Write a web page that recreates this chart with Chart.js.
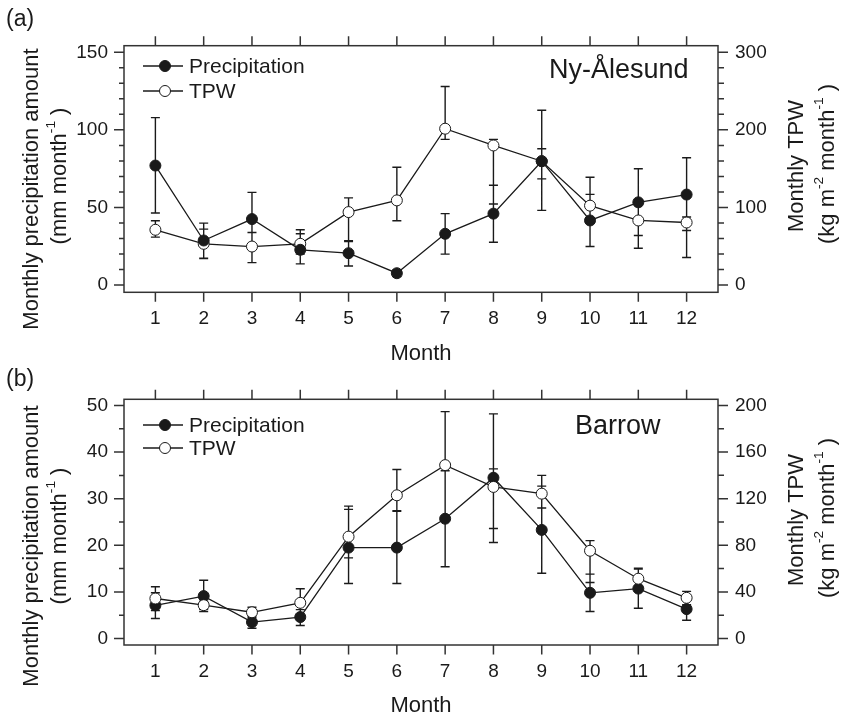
<!DOCTYPE html>
<html>
<head>
<meta charset="utf-8">
<script src="https://cdn.jsdelivr.net/npm/chart.js@4.4.1/dist/chart.umd.min.js"></script>
<style>
  html, body { margin: 0; padding: 0; background: #fff; }
  #wrap { position: relative; width: 843px; height: 719px; }
  .panel { position: absolute; left: 0; width: 843px; }
</style>
</head>
<body>
<div id="wrap">
  <div class="panel" style="top:0;height:375px"><canvas id="chartA" width="843" height="375"></canvas></div>
  <div class="panel" style="top:360px;height:359px"><canvas id="chartB" width="843" height="359"></canvas></div>
</div>
<script>
const months = [1, 2, 3, 4, 5, 6, 7, 8, 9, 10, 11, 12];

// (a) Ny-Alesund
const precipA   = [77.0, 28.7, 42.5, 22.7, 20.5, 7.6, 33.0, 46.0, 79.8, 41.6, 53.3, 58.3];
const precipLoA = [46.4, 17.3, 25.3, 13.6, 12.3, 5.5, 19.9, 27.6, 48.1, 24.8, 31.9, 35.1];
const precipHiA = [107.9, 39.9, 59.7, 33.0, 28.5, 9.7, 46.0, 64.3, 112.6, 58.4, 74.9, 82.0];
const tpwA   = [71.2, 53.1, 49.6, 53.1, 94.0, 109.1, 201.5, 179.9, 159.6, 102.3, 83.2, 80.6];
const tpwLoA = [61.7, 34.0, 28.9, 40.0, 56.1, 82.9, 187.7, 104.4, 136.8, 82.0, 47.4, 35.4];
const tpwHiA = [82.8, 72.1, 67.7, 71.2, 112.3, 151.8, 255.9, 187.7, 175.6, 139.0, 110.0, 87.6];
const precipTicksA = [0, 50, 100, 150];
const tpwTicksA = [0, 100, 200, 300];

// (b) Barrow
const precipB   = [7.1, 9.1, 3.5, 4.6, 19.5, 19.5, 25.7, 34.5, 23.3, 9.8, 10.7, 6.3];
const precipLoB = [4.3, 5.8, 2.2, 2.8, 11.8, 11.8, 15.4, 20.6, 14.0, 5.8, 6.5, 3.9];
const precipHiB = [9.8, 12.5, 4.7, 6.2, 27.7, 27.3, 36.0, 48.2, 32.7, 13.8, 14.9, 8.7];
const tpwB   = [34.3, 28.6, 22.5, 30.6, 87.4, 122.9, 148.8, 130.1, 124.3, 75.3, 51.3, 34.9];
const tpwLoB = [24.0, 25.0, 18.0, 18.4, 69.2, 109.7, 103.0, 94.4, 112.0, 48.0, 44.0, 29.0];
const tpwHiB = [44.4, 32.0, 26.8, 42.7, 113.6, 145.0, 194.7, 145.6, 140.0, 84.0, 60.3, 40.4];
const precipTicksB = [0, 10, 20, 30, 40, 50];
const tpwTicksB = [0, 40, 80, 120, 160, 200];

const FONT = '"Liberation Sans", Arial, sans-serif';
const INK = '#1a1a1a';

function toPoints(vals) {
  return months.map((m, i) => ({ x: m, y: vals[i] }));
}

// draws a rotated (bottom-to-top) line of text made of normal and superscript parts
function drawRotated(ctx, segs, cx, cy, size) {
  ctx.save();
  ctx.translate(cx, cy);
  ctx.rotate(-Math.PI / 2);
  ctx.textAlign = 'left';
  ctx.textBaseline = 'middle';
  let total = 0;
  segs.forEach(s => {
    ctx.font = (s.sup ? size * 0.62 : size) + 'px ' + FONT;
    s.w = ctx.measureText(s.t).width;
    total += s.w;
  });
  let x = -total / 2;
  segs.forEach(s => {
    ctx.font = (s.sup ? size * 0.62 : size) + 'px ' + FONT;
    ctx.fillText(s.t, x, s.sup ? -size * 0.42 : 0);
    x += s.w;
  });
  ctx.restore();
}

function makePanel(p) {
  const decor = {
    id: 'decor' + p.id,
    beforeDatasetsDraw(chart) {
      const ctx = chart.ctx;
      const xs = chart.scales.x;
      ctx.save();
      ctx.strokeStyle = INK;
      ctx.lineWidth = 1.4;
      ctx.beginPath();
      [[p.precipLo, p.precipHi, chart.scales.y], [p.tpwLo, p.tpwHi, chart.scales.y2]].forEach(([lo, hi, sc]) => {
        months.forEach((m, i) => {
          const x = xs.getPixelForValue(m);
          const a = sc.getPixelForValue(lo[i]);
          const b = sc.getPixelForValue(hi[i]);
          ctx.moveTo(x, a); ctx.lineTo(x, b);
          ctx.moveTo(x - 4.5, a); ctx.lineTo(x + 4.5, a);
          ctx.moveTo(x - 4.5, b); ctx.lineTo(x + 4.5, b);
        });
      });
      ctx.stroke();
      ctx.restore();
    },
    afterDraw(chart) {
      const ctx = chart.ctx;
      const a = chart.chartArea;
      const xs = chart.scales.x, ys = chart.scales.y, y2 = chart.scales.y2;
      ctx.save();
      ctx.strokeStyle = '#333';
      ctx.lineWidth = 1.5;
      ctx.strokeRect(a.left, a.top, a.right - a.left, a.bottom - a.top);

      // tick marks
      ctx.beginPath();
      months.forEach(m => {
        const x = xs.getPixelForValue(m);
        ctx.moveTo(x, a.bottom); ctx.lineTo(x, a.bottom + 9.5);
        ctx.moveTo(x, a.top); ctx.lineTo(x, a.top - 9.5);
      });
      const t1 = p.yTicks, t2 = p.y2Ticks;
      for (let v = t1[0]; v <= t1[t1.length - 1] + 1e-6; v += p.yMinor) {
        const y = ys.getPixelForValue(v);
        const len = t1.includes(v) ? 10 : 5;
        ctx.moveTo(a.left - len, y); ctx.lineTo(a.left, y);
      }
      for (let v = t2[0]; v <= t2[t2.length - 1] + 1e-6; v += p.y2Minor) {
        const y = y2.getPixelForValue(v);
        const len = t2.includes(v) ? 10 : 6;
        ctx.moveTo(a.right, y); ctx.lineTo(a.right + len, y);
      }
      ctx.stroke();

      // legend
      ctx.strokeStyle = INK;
      ctx.lineWidth = 1.3;
      [[p.legendY[0], INK], [p.legendY[1], '#fff']].forEach(([ly, fill], k) => {
        ctx.beginPath();
        ctx.moveTo(143, ly); ctx.lineTo(183, ly);
        ctx.stroke();
        ctx.beginPath();
        ctx.arc(165, ly, 5.5, 0, Math.PI * 2);
        ctx.fillStyle = fill;
        ctx.fill();
        ctx.lineWidth = 1;
        ctx.stroke();
        ctx.lineWidth = 1.3;
        ctx.fillStyle = INK;
        ctx.font = '21px ' + FONT;
        ctx.textAlign = 'left';
        ctx.textBaseline = 'middle';
        ctx.fillText(k === 0 ? 'Precipitation' : 'TPW', 189, ly + 1);
      });

      ctx.fillStyle = INK;
      ctx.font = '27px ' + FONT;
      ctx.textAlign = 'left';
      ctx.textBaseline = 'middle';
      ctx.fillText(p.station, p.stationX, p.stationY);

      ctx.font = '23px ' + FONT;
      ctx.fillText(p.letter, 6, 20);

      ctx.font = '22px ' + FONT;
      ctx.textAlign = 'center';
      ctx.fillText('Month', (a.left + a.right) / 2, p.monthY);

      drawRotated(ctx, [{ t: 'Monthly precipitation amount' }], 32, p.leftTitleY, 22);
      drawRotated(ctx, [{ t: '(mm month' }, { t: '-1', sup: true }, { t: ' )' }], 60, 176, 22);
      drawRotated(ctx, [{ t: 'Monthly TPW' }], 797, p.rightTitleY, 22);
      drawRotated(ctx, [{ t: '(kg m' }, { t: '-2', sup: true }, { t: ' month' }, { t: '-1', sup: true }, { t: ' )' }], 828, p.rightTitleY - 2, 22);
      ctx.restore();
    }
  };

  const tickFont = { family: FONT, size: 19 };
  return new Chart(document.getElementById(p.canvas), {
    type: 'line',
    data: {
      datasets: [
        {
          label: 'Precipitation',
          data: toPoints(p.precip),
          yAxisID: 'y',
          borderColor: INK,
          borderWidth: 1.3,
          pointRadius: 5.5,
          pointBackgroundColor: INK,
          pointBorderColor: INK,
          pointBorderWidth: 1,
          order: p.precipOrder
        },
        {
          label: 'TPW',
          data: toPoints(p.tpw),
          yAxisID: 'y2',
          borderColor: INK,
          borderWidth: 1.3,
          pointRadius: 5.5,
          pointBackgroundColor: '#fff',
          pointBorderColor: INK,
          pointBorderWidth: 1,
          order: 1 - p.precipOrder
        }
      ]
    },
    options: {
      responsive: false,
      animation: false,
      layout: { padding: { top: p.top, bottom: 0, left: 0, right: 0 } },
      plugins: { legend: { display: false }, tooltip: { enabled: false } },
      scales: {
        x: {
          type: 'linear',
          min: 0.35,
          max: 12.65,
          grid: { display: false, drawTicks: false },
          border: { display: false },
          afterBuildTicks: s => { s.ticks = months.map(v => ({ value: v })); },
          afterFit: s => { s.height = p.xHeight; },
          ticks: { font: tickFont, color: INK, padding: 15, maxRotation: 0, autoSkip: false }
        },
        y: {
          position: 'left',
          min: p.yMin,
          max: p.yMax,
          grid: { display: false, drawTicks: false },
          border: { display: false },
          afterBuildTicks: s => { s.ticks = p.yTicks.map(v => ({ value: v })); },
          afterFit: s => { s.width = 124; },
          ticks: { font: tickFont, color: INK, padding: 16 }
        },
        y2: {
          position: 'right',
          min: p.y2Min,
          max: p.y2Max,
          grid: { display: false, drawTicks: false },
          border: { display: false },
          afterBuildTicks: s => { s.ticks = p.y2Ticks.map(v => ({ value: v })); },
          afterFit: s => { s.width = 125; },
          ticks: { font: tickFont, color: INK, padding: 17 }
        }
      }
    },
    plugins: [decor]
  });
}

makePanel({
  id: 'A', canvas: 'chartA',
  precip: precipA, precipLo: precipLoA, precipHi: precipHiA,
  tpw: tpwA, tpwLo: tpwLoA, tpwHi: tpwHiA,
  yTicks: precipTicksA, y2Ticks: tpwTicksA, yMinor: 10, y2Minor: 20,
  yMin: -4.7, yMax: 154.25, y2Min: -9.4, y2Max: 308.5,
  top: 45.7, xHeight: 82.7, precipOrder: 0,
  station: 'Ny-Ålesund', stationX: 549, stationY: 71,
  letter: '(a)', legendY: [66, 91], monthY: 354,
  leftTitleY: 189, rightTitleY: 166
});

makePanel({
  id: 'B', canvas: 'chartB',
  precip: precipB, precipLo: precipLoB, precipHi: precipHiB,
  tpw: tpwB, tpwLo: tpwLoB, tpwHi: tpwHiB,
  yTicks: precipTicksB, y2Ticks: tpwTicksB, yMinor: 5, y2Minor: 20,
  yMin: -1.4, yMax: 51.33, y2Min: -5.6, y2Max: 205.3,
  top: 39.3, xHeight: 74, precipOrder: 1,
  station: 'Barrow', stationX: 575, stationY: 67,
  letter: '(b)', legendY: [65, 88], monthY: 346,
  leftTitleY: 186, rightTitleY: 160
});
</script>
</body>
</html>
